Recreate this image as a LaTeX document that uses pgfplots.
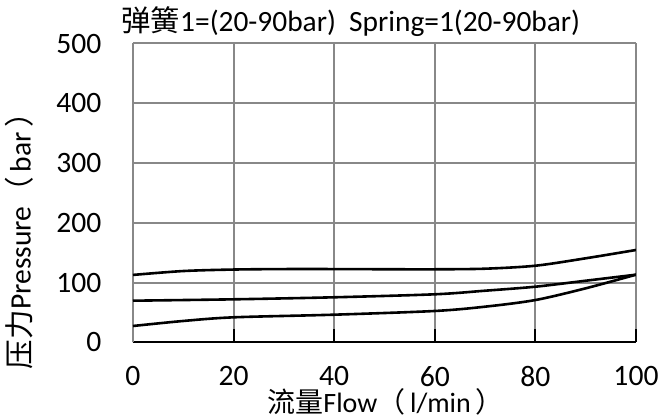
\documentclass[border=0pt]{standalone}
\usepackage{fontspec}
\setmainfont{Carlito}
\newfontfamily\cjk{Noto Sans CJK SC}
\usepackage{pgfplots}
\pgfplotsset{compat=1.18}
\definecolor{gridgray}{RGB}{136,136,136}
\begin{document}
\begin{tikzpicture}
\useasboundingbox (-66.5pt,-37.25pt) rectangle (264pt,171.25pt);
\begin{axis}[
  at={(0,0)}, anchor=south west,
  scale only axis, width=251.5pt, height=149.5pt,
  xmin=0, xmax=100, ymin=0, ymax=500,
  xtick={0,20,40,60,80,100}, ytick={0,100,200,300,400,500},
  axis x line=bottom, axis y line=left,
  x axis line style={-, black, line width=1pt},
  y axis line style={-, gridgray, line width=1pt},
  tick align=inside,
  major tick length=6.5pt,
  xtick style={black, line width=1pt},
  ytick style={draw=none},
  grid=major,
  major grid style={gridgray, line width=1pt},
  /pgf/number format/assume math mode=true,
  tick label style={font=\fontsize{14.8}{17}\selectfont},
  xticklabel style={anchor=north, inner sep=0pt, yshift=-11.75pt},
  yticklabel style={anchor=east, inner sep=0pt, xshift=-15.6pt},
  every axis title/.style={at={(axis description cs:0.433,1.0418)}, anchor=base, inner sep=0pt, font=\fontsize{14.7}{17}\selectfont},
  title={{\cjk 弹簧}1=(20-90bar)\hspace{0.45em}Spring=1(20-90bar)},
  every axis x label/.style={at={(axis description cs:0.502,-0.2335)}, anchor=base, inner sep=0pt, font=\fontsize{14}{16}\selectfont},
  xlabel={{\cjk 流量}Flow{\cjk （}\,l/min\,{\cjk ）}},
  every axis y label/.style={at={(axis description cs:-0.2036,0.365)}, anchor=base, rotate=90, inner sep=0pt, font=\fontsize{14.8}{16}\selectfont},
  ylabel={{\cjk 压力}Pressure{\cjk （}\,bar\,{\cjk ）}},
]
\addplot[black, line width=1.3pt, smooth] coordinates {
(0,113) (10,119.5) (20,122) (30,122.8) (40,122.8) (50,122.5) (60,122.4) (70,123.4) (80,128.4) (90,140.8) (100,154.7)};
\addplot[black, line width=1.3pt, smooth] coordinates {
(0,69.9) (20,72.2) (40,75.6) (60,80.6) (70,86.6) (80,93.3) (90,103.3) (100,113.4)};
\addplot[black, line width=1.3pt, smooth] coordinates {
(0,27.6) (10,36) (20,42.1) (40,46.5) (60,52.7) (70,59.9) (80,71) (90,90.6) (100,113.4)};
\end{axis}
\end{tikzpicture}
\end{document}
